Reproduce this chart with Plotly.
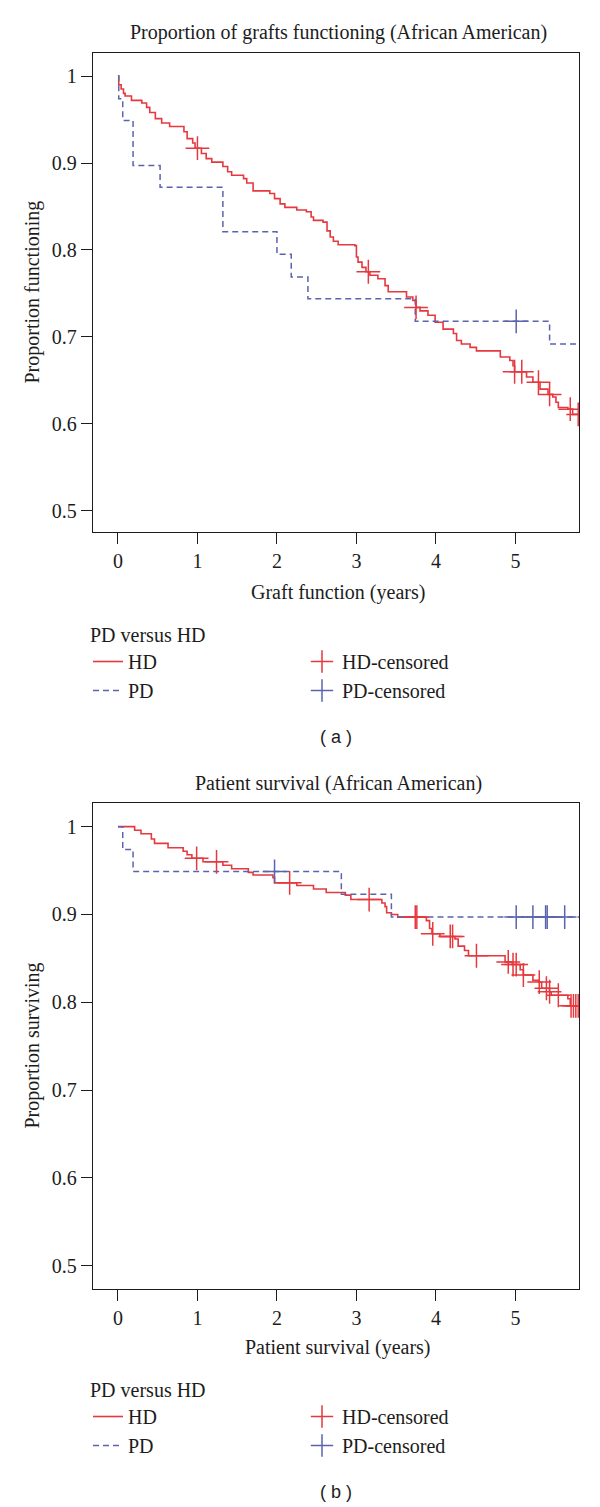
import plotly.graph_objects as go

# ---------------- Panel (a): Proportion of grafts functioning ----------------
hd_a_time = [0, 0.01, 0.04, 0.07, 0.09, 0.17, 0.30, 0.36, 0.40, 0.47, 0.55, 0.65, 0.83, 0.87,
             0.94, 0.97, 1.05, 1.11, 1.18, 1.32, 1.38, 1.43, 1.58, 1.62, 1.70, 1.91, 1.97, 2.04,
             2.10, 2.25, 2.37, 2.43, 2.46, 2.58, 2.63, 2.67, 2.71, 2.77, 2.98, 3.00, 3.02, 3.07,
             3.12, 3.17, 3.27, 3.36, 3.40, 3.63, 3.71, 3.75, 3.80, 3.90, 3.99, 4.09, 4.22, 4.26,
             4.32, 4.43, 4.51, 4.81, 4.93, 4.97, 4.99, 5.14, 5.22, 5.31, 5.41, 5.47, 5.51, 5.54,
             5.66, 5.72, 5.80]
hd_a_surv = [1, 0.990, 0.985, 0.980, 0.977, 0.972, 0.969, 0.964, 0.958, 0.951, 0.946, 0.942, 0.936,
             0.928, 0.923, 0.917, 0.911, 0.905, 0.901, 0.896, 0.890, 0.886, 0.882, 0.877, 0.868,
             0.865, 0.859, 0.853, 0.849, 0.846, 0.844, 0.838, 0.834, 0.832, 0.822, 0.815, 0.810,
             0.806, 0.805, 0.792, 0.786, 0.780, 0.775, 0.771, 0.767, 0.759, 0.752, 0.746, 0.742,
             0.734, 0.730, 0.725, 0.717, 0.709, 0.704, 0.696, 0.692, 0.688, 0.684, 0.677, 0.673,
             0.667, 0.660, 0.654, 0.648, 0.640, 0.634, 0.631, 0.625, 0.619, 0.617, 0.611, 0.611]
hd_a_cens_time = [1.00, 3.15, 3.75, 4.99, 5.08, 5.29, 5.43, 5.69, 5.79]
hd_a_cens_surv = [0.917, 0.775, 0.734, 0.660, 0.660, 0.648, 0.634, 0.617, 0.611]

pd_a_time = [0, 0.01, 0.06, 0.19, 0.53, 1.32, 2.00, 2.18, 2.39, 3.74, 5.43, 5.80]
pd_a_surv = [1, 0.974, 0.949, 0.897, 0.872, 0.821, 0.795, 0.769, 0.744, 0.718, 0.692, 0.692]
pd_a_cens_time = [5.01]
pd_a_cens_surv = [0.718]

# ---------------- Panel (b): Patient survival ----------------
hd_b_time = [0, 0.21, 0.29, 0.42, 0.46, 0.63, 0.82, 0.87, 0.93, 1.07, 1.32, 1.43, 1.64, 1.70,
             1.95, 1.97, 2.25, 2.46, 2.62, 2.86, 2.93, 3.32, 3.36, 3.38, 3.44, 3.52, 3.88, 3.92,
             3.95, 4.05, 4.24, 4.28, 4.36, 4.41, 4.87, 4.96, 5.06, 5.10, 5.22, 5.29, 5.33, 5.43,
             5.45, 5.66, 5.69, 5.80]
hd_b_surv = [1, 0.996, 0.992, 0.986, 0.981, 0.976, 0.972, 0.968, 0.964, 0.960, 0.956, 0.952,
             0.948, 0.945, 0.942, 0.936, 0.933, 0.929, 0.925, 0.922, 0.917, 0.913, 0.909, 0.902,
             0.900, 0.897, 0.893, 0.884, 0.878, 0.875, 0.872, 0.864, 0.859, 0.853, 0.846, 0.843,
             0.837, 0.831, 0.825, 0.823, 0.816, 0.812, 0.808, 0.804, 0.796, 0.796]
hd_b_cens_time = [0.99, 1.24, 2.16, 3.16, 3.74, 3.76, 3.96, 4.18, 4.21, 4.51, 4.91, 4.97, 5.01,
                  5.10, 5.30, 5.39, 5.43, 5.54, 5.70, 5.73, 5.76, 5.79]
hd_b_cens_surv = [0.964, 0.960, 0.936, 0.917, 0.897, 0.897, 0.878, 0.875, 0.875, 0.853, 0.846,
                  0.843, 0.843, 0.831, 0.823, 0.816, 0.812, 0.808, 0.796, 0.796, 0.796, 0.796]

pd_b_time = [0, 0.06, 0.19, 2.81, 3.44, 5.80]
pd_b_surv = [1, 0.974, 0.949, 0.923, 0.897, 0.897]
pd_b_cens_time = [1.97, 5.01, 5.22, 5.38, 5.40, 5.62]
pd_b_cens_surv = [0.949, 0.897, 0.897, 0.897, 0.897, 0.897]

# ---------------- Axis ticks / texts ----------------
x_tick_vals = [0, 1, 2, 3, 4, 5]
x_tick_text = ["0", "1", "2", "3", "4", "5"]
y_tick_vals = [0.5, 0.6, 0.7, 0.8, 0.9, 1.0]
y_tick_text = ["0.5", "0.6", "0.7", "0.8", "0.9", "1"]

series_names = ["HD", "HD-censored", "PD", "PD-censored"]
legend_title = "PD versus HD"

# ---------------- Styling ----------------
W, H = 600, 1507
HD_COLOR = "#e5393f"
PD_COLOR = "#5b63ad"
INK = "#1c1c1c"
SERIF = "Liberation Serif, Times New Roman, serif"
SANS = "Liberation Sans, Arial, sans-serif"
FS = 20


def px_x(x):
    return x / W


def px_y(y):
    return 1 - y / H


fig = go.Figure()

panels = [
    dict(xa="x", ya="y", leg="legend",
         hd=(hd_a_time, hd_a_surv), hdc=(hd_a_cens_time, hd_a_cens_surv),
         pd=(pd_a_time, pd_a_surv), pdc=(pd_a_cens_time, pd_a_cens_surv)),
    dict(xa="x2", ya="y2", leg="legend2",
         hd=(hd_b_time, hd_b_surv), hdc=(hd_b_cens_time, hd_b_cens_surv),
         pd=(pd_b_time, pd_b_surv), pdc=(pd_b_cens_time, pd_b_cens_surv)),
]

for p in panels:
    fig.add_trace(go.Scatter(
        x=p["hd"][0], y=p["hd"][1], mode="lines", name=series_names[0],
        line=dict(shape="hv", color=HD_COLOR, width=1.6),
        xaxis=p["xa"], yaxis=p["ya"], legend=p["leg"], legendrank=1, hoverinfo="skip"))
    fig.add_trace(go.Scatter(
        x=p["pd"][0], y=p["pd"][1], mode="lines", name=series_names[2],
        line=dict(shape="hv", color=PD_COLOR, width=1.5, dash="6px,4px"),
        xaxis=p["xa"], yaxis=p["ya"], legend=p["leg"], legendrank=3, hoverinfo="skip"))
    fig.add_trace(go.Scatter(
        x=p["hdc"][0], y=p["hdc"][1], mode="markers", name=series_names[1],
        marker=dict(symbol="cross-thin", size=17, color=HD_COLOR,
                    line=dict(color=HD_COLOR, width=1.5)),
        xaxis=p["xa"], yaxis=p["ya"], legend=p["leg"], legendrank=2, hoverinfo="skip"))
    fig.add_trace(go.Scatter(
        x=p["pdc"][0], y=p["pdc"][1], mode="markers", name=series_names[3],
        marker=dict(symbol="cross-thin", size=17, color=PD_COLOR,
                    line=dict(color=PD_COLOR, width=1.5)),
        xaxis=p["xa"], yaxis=p["ya"], legend=p["leg"], legendrank=4, hoverinfo="skip"))

axis_common = dict(
    showline=True, mirror=True, linecolor=INK, linewidth=1.4,
    ticks="outside", ticklen=11, tickwidth=1.2, tickcolor=INK,
    showgrid=False, zeroline=False,
    tickfont=dict(family=SERIF, size=FS, color=INK),
)

x_dom = [px_x(93), px_x(579)]
x_rng = [-0.314, 5.80]

fig.update_layout(
    xaxis=dict(domain=x_dom, range=x_rng, anchor="y",
               tickvals=x_tick_vals, ticktext=x_tick_text, **axis_common),
    yaxis=dict(domain=[px_y(532), px_y(52.7)], range=[0.4758, 1.0268], anchor="x",
               tickvals=y_tick_vals, ticktext=y_tick_text, **axis_common),
    xaxis2=dict(domain=x_dom, range=x_rng, anchor="y2",
                tickvals=x_tick_vals, ticktext=x_tick_text, **axis_common),
    yaxis2=dict(domain=[px_y(1289), px_y(802.7)], range=[0.4735, 1.0273], anchor="x2",
                tickvals=y_tick_vals, ticktext=y_tick_text, **axis_common),
)

legend_common = dict(
    orientation="h", xanchor="left", yanchor="top",
    entrywidth=169, entrywidthmode="pixels", itemwidth=30,
    font=dict(family=SERIF, size=FS, color=INK),
    title=dict(text=legend_title, side="top", font=dict(family=SERIF, size=FS, color=INK)),
    bgcolor="rgba(0,0,0,0)", traceorder="normal",
)
fig.update_layout(
    legend=dict(x=px_x(88), y=px_y(616), **legend_common),
    legend2=dict(x=px_x(88), y=px_y(1371), **legend_common),
)

annots = [
    ("Proportion of grafts functioning (African American)", 338, 33, 0, SERIF, FS),
    ("Patient survival (African American)", 338, 783, 0, SERIF, FS),
    ("Proportion functioning", 31.5, 292, -90, SERIF, FS),
    ("Proportion surviving", 31.5, 1046, -90, SERIF, FS),
    ("Graft function (years)", 338, 592, 0, SERIF, FS),
    ("Patient survival (years)", 338, 1347, 0, SERIF, FS),
    ("( a )", 336, 737, 0, SANS, 18),
    ("( b )", 336, 1492, 0, SANS, 18),
]
for text, x, y, ang, fam, fs in annots:
    fig.add_annotation(text=text, x=px_x(x), y=px_y(y), xref="paper", yref="paper",
                       xanchor="center", yanchor="middle", textangle=ang, showarrow=False,
                       font=dict(family=fam, size=fs, color=INK))

fig.update_layout(
    width=W, height=H, autosize=False,
    margin=dict(l=0, r=0, t=0, b=0),
    paper_bgcolor="white", plot_bgcolor="white",
    showlegend=True,
)

fig.write_html("out.html", config={"displayModeBar": False},
               post_script="document.body.style.margin='0px';document.body.style.padding='0px';")
